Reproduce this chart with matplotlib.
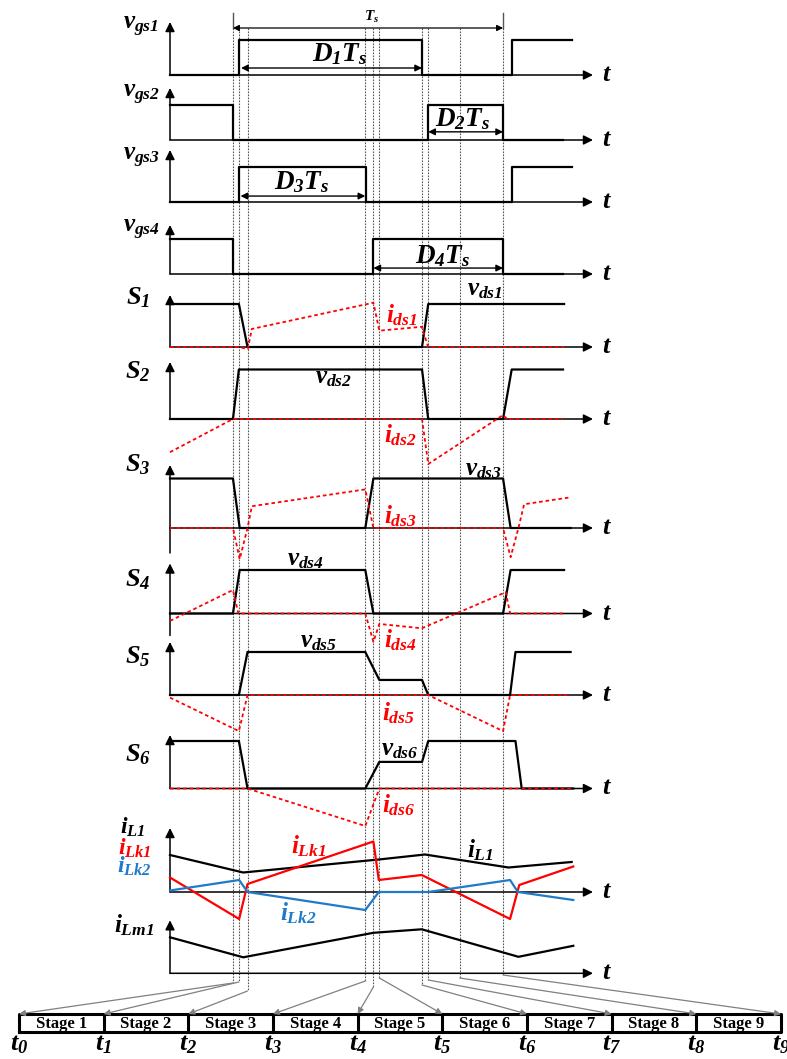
import numpy as np
import matplotlib.pyplot as plt
from matplotlib.patches import ConnectionPatch

plt.rcParams['font.family'] = ['Liberation Serif', 'DejaVu Serif']
plt.rcParams['mathtext.fontset'] = 'custom'
for k in ('rm', 'it', 'bf', 'sf'):
    plt.rcParams['mathtext.' + k] = 'Liberation Serif:bold:italic'

W, H = 787, 1059
X_LEFT, X_RIGHT = 170, 593        # pixel span of the time axes
T_MIN, T_MAX = -23.3, 133.3       # time span (Ts = 100)

# switching instants t0 .. t9
t_marks = [0, 2.2, 5.4, 49, 52, 54.2, 70, 72.3, 84, 100]
stages = ['Stage %d' % i for i in range(1, 10)]

# gate signals
vgs1_t = [T_MIN, 2.2, 2.2, 70, 70, 103.3, 103.3, 125.6]
vgs1_v = [0, 0, 1, 1, 0, 0, 1, 1]
vgs2_t = [T_MIN, 0, 0, 72.3, 72.3, 100, 100, 122.2]
vgs2_v = [1, 1, 0, 0, 1, 1, 0, 0]
vgs3_t = [T_MIN, 2.2, 2.2, 49.3, 49.3, 103.3, 103.3, 125.6]
vgs3_v = [0, 0, 1, 1, 0, 0, 1, 1]
vgs4_t = [T_MIN, 0, 0, 52, 52, 100, 100, 122.2]
vgs4_v = [1, 1, 0, 0, 1, 1, 0, 0]

# drain-source voltages
vds1_t = [T_MIN, 2.2, 5.4, 70, 72.3, 122.6]
vds1_v = [1, 1, 0, 0, 1, 1]
vds2_t = [T_MIN, 0, 2.2, 70, 72.3, 100, 103.2, 122.2]
vds2_v = [0, 0, 1, 1, 0, 0, 1, 1]
vds3_t = [T_MIN, 0, 2.5, 49, 52, 100, 102.8, 125]
vds3_v = [1, 1, 0, 0, 1, 1, 0, 0]
vds4_t = [T_MIN, 0, 2.5, 49, 52, 100, 102.8, 122.6]
vds4_v = [0, 0, 1, 1, 0, 0, 1, 1]
vds5_t = [T_MIN, 2.2, 5.4, 49, 54.2, 70, 72.3, 102.6, 104.6, 125]
vds5_v = [0, 0, 1, 1, 0.35, 0.35, 0, 0, 1, 1]
vds6_t = [T_MIN, 2.2, 5.4, 49, 54.2, 70, 72.3, 104.6, 106.9, 126]
vds6_v = [1, 1, 0, 0, 0.56, 0.56, 1, 1, 0, 0]

# drain-source currents
ids1_t = [T_MIN, 2.3, 5.5, 7, 52, 54.2, 69.9, 72.3, 122.6]
ids1_v = [0, 0, -0.05, 0.42, 1.03, 0.38, 0.47, 0, 0]
ids2_t = [T_MIN, 0, 70, 72.3, 100, 101.5, 122.2]
ids2_v = [-0.67, 0, 0, -0.91, 0.08, 0, 0]
ids3_t = [T_MIN, 0, 2.5, 5.4, 7, 49, 52, 100, 102.8, 105.7, 107.8, 125]
ids3_v = [0, 0, -0.63, 0, 0.44, 0.78, 0, 0, -0.59, 0, 0.48, 0.62]
ids4_t = [T_MIN, 0, 2.0, 49, 52, 54.2, 69.9, 101, 102.6, 122.6]
ids4_v = [-0.17, 0.54, 0, 0, -0.65, -0.24, -0.34, 0.49, 0, 0]
ids5_t = [T_MIN, 2.2, 5.4, 72.3, 100, 102.6, 125]
ids5_v = [-0.06, -0.84, 0, 0, -0.84, 0, 0]
ids6_t = [T_MIN, 5.4, 49, 54.2, 126]
ids6_v = [0, 0, -0.79, 0, 0]

# inductor currents
iL1_t = [T_MIN, 3.8, 54, 71.1, 102, 125.4]
iL1_v = [0.74, 0.39, 0.65, 0.75, 0.49, 0.60]
iLk1_t = [T_MIN, 2.3, 5.4, 52, 54, 69.9, 102.6, 106, 126]
iLk1_v = [0.29, -0.54, 0.16, 1.01, 0.24, 0.34, -0.54, 0.14, 0.51]
iLk2_t = [T_MIN, 2.3, 5.4, 49, 54, 72.3, 102.6, 105.5, 126]
iLk2_v = [0.03, 0.24, 0, -0.36, 0, 0, 0.24, 0, -0.16]
iLm1_t = [T_MIN, 3.8, 52, 69.9, 105.7, 126]
iLm1_v = [0.72, 0.32, 0.81, 0.88, 0.33, 0.55]

RED = '#ff0000'
BLUE = '#1f7bc8'
GREY = '#808080'
LW = 1.6
FS = 18

fig = plt.figure(figsize=(W / 100, H / 100), dpi=100)

# overlay for the dotted instants (x = time, y = pixel row)
ov = fig.add_axes([X_LEFT / W, 0, (X_RIGHT - X_LEFT) / W, 1])
ov.set_xlim(T_MIN, T_MAX)
ov.set_ylim(H, 0)
ov.axis('off')
bend_y = [983, 982, 991, 981, 987, 978, 985, 980, 978, 975]
for t, yb in zip(t_marks, bend_y):
    ov.plot([t, t], [28, yb], color='#555555', lw=0.8, ls=(0, (1.5, 1.2)))
for t in (0, 100):
    ov.plot([t, t], [13, 28], color='#555555', lw=1.0)
ov.annotate('', xy=(100, 28), xytext=(0, 28),
            arrowprops=dict(arrowstyle='<|-|>', color='black', lw=0.9,
                            mutation_scale=9, shrinkA=0, shrinkB=0))
ov.text(51.5, 17, '$T_s$', fontsize=11, ha='center', va='center')


def panel(base, h):
    ax = fig.add_axes([X_LEFT / W, 1 - base / H, (X_RIGHT - X_LEFT) / W, h / H])
    ax.set_xlim(T_MIN, T_MAX)
    ax.set_ylim(0, 1)
    ax.axis('off')
    return ax


def axes_arrows(ax, top, bottom=0.0):
    ax.annotate('', xy=(T_MAX, 0), xytext=(T_MIN, 0), annotation_clip=False,
                arrowprops=dict(arrowstyle='-|>', color='black', lw=1.1,
                                mutation_scale=14, shrinkA=0, shrinkB=0))
    ax.annotate('', xy=(T_MIN, top), xytext=(T_MIN, bottom), annotation_clip=False,
                arrowprops=dict(arrowstyle='-|>', color='black', lw=1.1,
                                mutation_scale=14, shrinkA=0, shrinkB=0))
    ax.text(T_MAX + 5.2, 0, '$t$', fontsize=19, ha='center', va='center')


def label(ax, x, y, s, color='black', size=FS):
    ax.text(x, y, s, fontsize=size, color=color, ha='center', va='center')


def dim_arrow(ax, x0, x1, y, s, lx, ly):
    ax.annotate('', xy=(x1, y), xytext=(x0, y), annotation_clip=False,
                arrowprops=dict(arrowstyle='<|-|>', color='black', lw=1.0,
                                mutation_scale=10, shrinkA=0, shrinkB=0))
    label(ax, lx, ly, s, size=19.5)


# gate drive panels
gates = [
    (75, 35, vgs1_t, vgs1_v, r'$v_{gs1}$', 1.37, 53),
    (140, 35.5, vgs2_t, vgs2_v, r'$v_{gs2}$', 1.27, 52),
    (202, 35, vgs3_t, vgs3_v, r'$v_{gs3}$', 1.26, 52),
    (274, 35, vgs4_t, vgs4_v, r'$v_{gs4}$', 1.26, 49),
]
gate_axes = []
for base, h, tt, vv, name, ly, top in gates:
    ax = panel(base, h)
    axes_arrows(ax, top / h)
    ax.plot(tt, vv, color='black', lw=LW, clip_on=False)
    label(ax, -34, ly, name)
    gate_axes.append(ax)

dim_arrow(gate_axes[0], 3.0, 70, 0.2, r'$D_1T_s$', 39.6, 0.6)
dim_arrow(gate_axes[1], 72.3, 100, 0.23, r'$D_2T_s$', 85, 0.58)
dim_arrow(gate_axes[2], 2.8, 49, 0.17, r'$D_3T_s$', 25.5, 0.56)
dim_arrow(gate_axes[3], 52, 100, 0.17, r'$D_4T_s$', 77.5, 0.52)

# switch voltage / current panels
switches = [
    (347, 43, vds1_t, vds1_v, ids1_t, ids1_v, 1.14, 52, 0,
     (93.3, 1.33), (62.5, 0.74)),
    (419, 49.5, vds2_t, vds2_v, ids2_t, ids2_v, 0.95, 57, 0,
     (37.2, 0.83), (61.9, -0.32)),
    (528, 49.5, vds3_t, vds3_v, ids3_t, ids3_v, 1.27, 63, 25,
     (92.6, 1.17), (61.9, 0.23)),
    (613.5, 43.5, vds4_t, vds4_v, ids4_t, ids4_v, 0.77, 50, 22,
     (26.7, 1.23), (61.9, -0.61)),
    (695, 43, vds5_t, vds5_v, ids5_t, ids5_v, 0.88, 53, 0,
     (31.6, 1.24), (61.2, -0.43)),
    (788.5, 47.5, vds6_t, vds6_v, ids6_t, ids6_v, 0.71, 53.5, 0,
     (61.9, 0.81), (61.2, -0.35)),
]
for k, (base, h, vt, vv, it, iv, ly, top, below, vpos, ipos) in enumerate(switches, 1):
    ax = panel(base, h)
    axes_arrows(ax, top / h, -below / h)
    ax.plot(vt, vv, color='black', lw=LW, clip_on=False, zorder=3)
    ax.plot(it, iv, color=RED, lw=1.3, ls=(0, (2, 1.6)), clip_on=False, zorder=4)
    label(ax, -35.2, ly, '$S_%d$' % k, size=19)
    label(ax, vpos[0], vpos[1], '$v_{ds%d}$' % k)
    label(ax, ipos[0], ipos[1], '$i_{ds%d}$' % k, color=RED)

# inductor current panel
ax = panel(892, 50)
axes_arrows(ax, 64 / 50)
ax.plot(iL1_t, iL1_v, color='black', lw=LW, clip_on=False, zorder=3)
ax.plot(iLk1_t, iLk1_v, color=RED, lw=LW, clip_on=False, zorder=4)
ax.plot(iLk2_t, iLk2_v, color=BLUE, lw=LW, clip_on=False, zorder=4)
label(ax, -37, 1.3, '$i_{L1}$', size=17)
label(ax, -36.5, 0.87, '$i_{Lk1}$', color=RED, size=17)
label(ax, -36.5, 0.52, '$i_{Lk2}$', color=BLUE, size=17)
label(ax, 27.9, 0.91, '$i_{Lk1}$', color=RED)
label(ax, 91.5, 0.84, '$i_{L1}$')
label(ax, 24.2, -0.43, '$i_{Lk2}$', color=BLUE)

ax = panel(973.3, 50)
axes_arrows(ax, 53 / 50)
ax.plot(iLm1_t, iLm1_v, color='black', lw=LW, clip_on=False)
label(ax, -36.5, 0.97, '$i_{Lm1}$')

# stage bar
sb = fig.add_axes([19 / W, 1 - 1032 / H, (781 - 19) / W, 18 / H])
sb.set_xlim(0, len(stages))
sb.set_ylim(0, 1)
sb.axis('off')
sb.plot([0, 9, 9, 0, 0], [0, 0, 1, 1, 0], color='black', lw=2.2, clip_on=False)
for i, s in enumerate(stages):
    if i:
        sb.plot([i, i], [0, 1], color='black', lw=2.2, clip_on=False)
    sb.text(i + 0.5, 0.45, s, fontsize=12, fontweight='bold',
            ha='center', va='center')
for i in range(len(t_marks)):
    sb.text(i, -0.72, '$t_%d$' % i, fontsize=19, ha='center', va='center')

for i, (t, yb) in enumerate(zip(t_marks, bend_y)):
    con = ConnectionPatch(xyA=(t, yb), coordsA=ov.transData,
                          xyB=(i, 1.0), coordsB=sb.transData,
                          arrowstyle='-|>', color=GREY, lw=0.9,
                          mutation_scale=9, shrinkA=0, shrinkB=0)
    fig.add_artist(con)

fig.savefig('out.png', dpi=100)
